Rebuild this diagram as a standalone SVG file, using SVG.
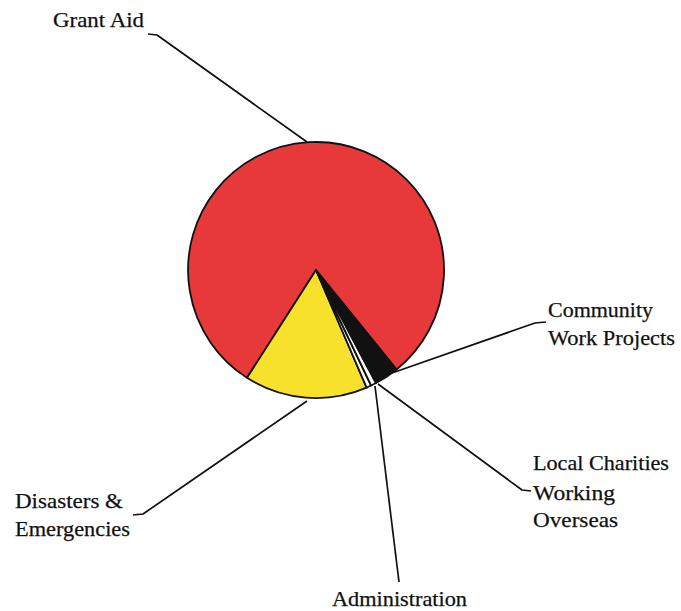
<svg xmlns="http://www.w3.org/2000/svg" width="681" height="611" viewBox="0 0 681 611">
<style>
.ld{fill:none;stroke:#111;stroke-width:1.7;stroke-linejoin:round}
.sl{stroke:#111;stroke-width:1.8;stroke-linejoin:round}
</style>
<rect width="681" height="611" fill="#fff"/>
<g id="pie">
<g id="grant-aid"><path class="sl" fill="#e8393a" d="M316,270 L396.6,369.5 A128,128 0 1 0 247,377.8 Z"/></g>
<g id="disasters"><path class="sl" fill="#f7e12a" d="M316,270 L247,377.8 A128,128 0 0 0 366.6,387.6 Z"/></g>
<g id="administration"><path class="sl" fill="#fff" d="M316,270 L366.6,387.6 A128,128 0 0 0 371.1,385.5 Z"/></g>
<g id="local-charities"><path class="sl" fill="#fff" d="M316,270 L371.1,385.5 A128,128 0 0 0 376,383 Z"/></g>
<g id="community"><path class="sl" fill="#111" d="M316,270 L376,383 A128,128 0 0 0 396.6,369.5 Z"/></g>
</g>
<g id="connectors">
<polyline class="ld" points="148,34 157,35 307,142"/>
<polyline class="ld" points="546,322 535,323 392,373"/>
<polyline class="ld" points="378,384 522,490 531,491"/>
<polyline class="ld" points="375,386 399,582"/>
<polyline class="ld" points="307,401 143,514 133,515"/>
</g>
<g id="labels" font-family="Liberation Serif, serif" font-size="21" fill="#111" stroke="#111" stroke-width="0.25">
<text x="53" y="27" textLength="91" lengthAdjust="spacingAndGlyphs">Grant Aid</text>
<text x="548" y="317" textLength="105" lengthAdjust="spacingAndGlyphs">Community</text>
<text x="548" y="345" textLength="127" lengthAdjust="spacingAndGlyphs">Work Projects</text>
<text x="533" y="470" textLength="136" lengthAdjust="spacingAndGlyphs">Local Charities</text>
<text x="533" y="500" textLength="82" lengthAdjust="spacingAndGlyphs">Working</text>
<text x="533" y="527" textLength="85" lengthAdjust="spacingAndGlyphs">Overseas</text>
<text x="15" y="508" textLength="108" lengthAdjust="spacingAndGlyphs">Disasters &amp;</text>
<text x="15" y="536" textLength="115" lengthAdjust="spacingAndGlyphs">Emergencies</text>
<text x="332" y="606" textLength="135" lengthAdjust="spacingAndGlyphs">Administration</text>
</g>
</svg>
